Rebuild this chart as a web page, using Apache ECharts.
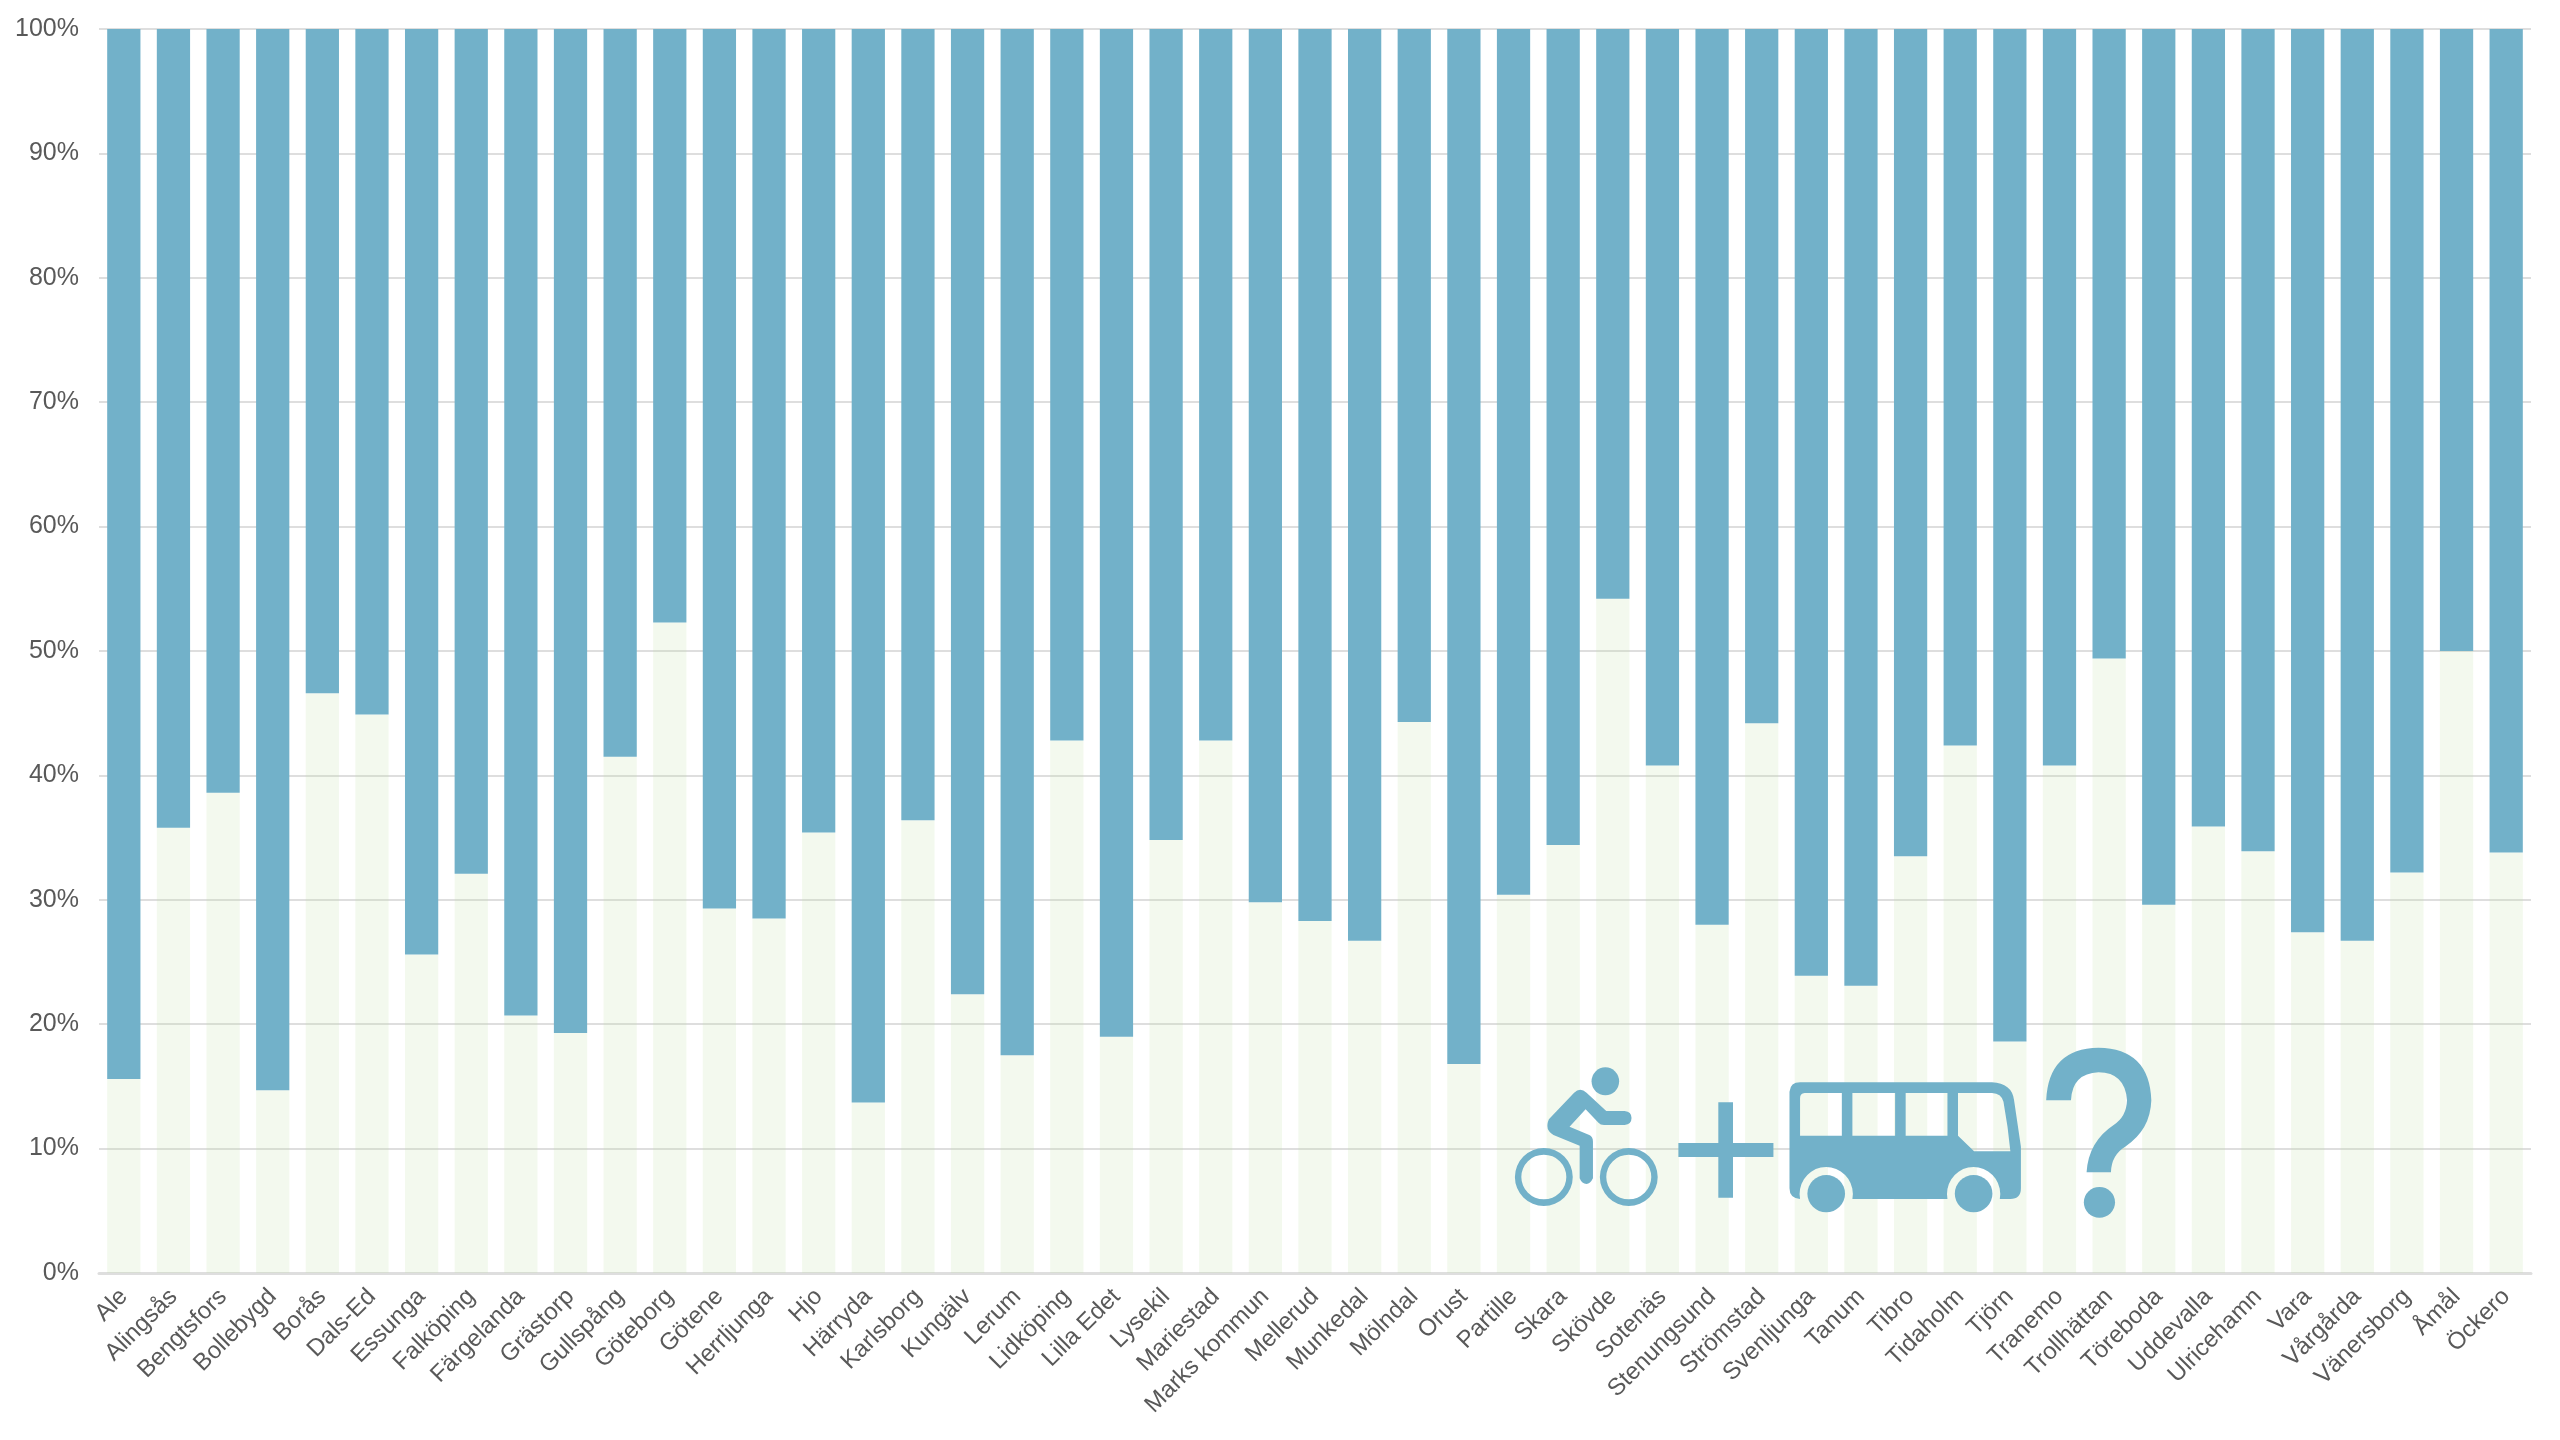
<!DOCTYPE html>
<html><head><meta charset="utf-8">
<style>html,body{margin:0;padding:0;background:#fff}#c{width:2560px;height:1440px}</style>
<script src="https://cdn.jsdelivr.net/npm/echarts@6/dist/echarts.min.js"></script>
</head><body><div id="c"></div>
<script>
const categories = ["Ale","Alingsås","Bengtsfors","Bollebygd","Borås","Dals-Ed","Essunga","Falköping","Färgelanda","Grästorp","Gullspång","Göteborg","Götene","Herrljunga","Hjo","Härryda","Karlsborg","Kungälv","Lerum","Lidköping","Lilla Edet","Lysekil","Mariestad","Marks kommun","Mellerud","Munkedal","Mölndal","Orust","Partille","Skara","Skövde","Sotenäs","Stenungsund","Strömstad","Svenljunga","Tanum","Tibro","Tidaholm","Tjörn","Tranemo","Trollhättan","Töreboda","Uddevalla","Ulricehamn","Vara","Vårgårda","Vänersborg","Åmål","Öckero"];
const lowerShare = [15.6,35.8,38.6,14.7,46.6,44.9,25.6,32.1,20.7,19.3,41.5,52.3,29.3,28.5,35.4,13.7,36.4,22.4,17.5,42.8,19.0,34.8,42.8,29.8,28.3,26.7,44.3,16.8,30.4,34.4,54.2,40.8,28.0,44.2,23.9,23.1,33.5,42.4,18.6,40.8,49.4,29.6,35.9,33.9,27.4,26.7,32.2,50.0,33.8];
const upperShare = [84.4,64.2,61.4,85.3,53.4,55.1,74.4,67.9,79.3,80.7,58.5,47.7,70.7,71.5,64.6,86.3,63.6,77.6,82.5,57.2,81.0,65.2,57.2,70.2,71.7,73.3,55.7,83.2,69.6,65.6,45.8,59.2,72.0,55.8,76.1,76.9,66.5,57.6,81.4,59.2,50.6,70.4,64.1,66.1,72.6,73.3,67.8,50.0,66.2];

const blue = '#72b1c9';
const oval = (cx,cy,rx,ry) => `M${cx-rx} ${cy} A${rx} ${ry} 0 1 1 ${cx+rx} ${cy} A${rx} ${ry} 0 1 1 ${cx-rx} ${cy} Z`;
const ovalHole = (cx,cy,rx,ry) => `M${cx-rx} ${cy} A${rx} ${ry} 0 1 0 ${cx+rx} ${cy} A${rx} ${ry} 0 1 0 ${cx-rx} ${cy} Z`;
const iconPaths = [
  oval(273,184,30,42),
  oval(139,471,63,87)+' '+ovalHole(139,471,49,67),
  oval(324,471,63,87)+' '+ovalHole(324,471,49,67),
  'M205 218 Q218 200 232 218 L275 273 L315 273 Q330 275 330 294 Q330 313 315 315 L270 315 Q262 315 258 308 L230 268 L195 320 L238 345 Q246 350 246 365 L246 475 Q240 492 232 492 Q222 492 217 475 L217 377 L160 345 Q140 330 150 298 Z',
  'M519 247 L551 247 L551 533 L519 533 Z',
  'M432 369 L639 369 L639 411 L432 411 Z',
  'M697 537 Q674 535 674 505 L674 215 Q676 187 697 187 L1115 187 Q1158 190 1163 240 L1178 380 L1178 505 Q1178 537 1155 537 L1132 537 A58 81 0 1 0 1018 537 L811 537 A58 81 0 1 0 697 537 Z M707 219 Q697 220 697 235 L697 347 L788 347 L788 219 Z M811 219 L811 347 L904 347 L904 219 Z M927 219 L927 347 L1018 347 L1018 219 Z M1041 219 L1041 347 L1076 394 L1155 394 Q1150 320 1140 245 Q1135 220 1115 219 Z',
  oval(754,521,41,56),
  oval(1075,521,41,56),
  'M1233 241 Q1238 85 1347 83 Q1458 85 1462 241 Q1460 330 1405 380 Q1375 405 1374 457 L1321 457 Q1325 365 1380 315 Q1408 290 1409 241 Q1405 158 1347 157 Q1290 160 1287 241 Z',
  oval(1349,547,34,46)
];
const chart = echarts.init(document.getElementById('c'), null, {renderer:'canvas'});
chart.setOption({
  animation:false,
  backgroundColor:'#fff',
  grid:{left:99,right:29,top:29,bottom:167,containLabel:false},
  xAxis:{type:'category',data:categories,
    axisTick:{show:false},
    axisLine:{lineStyle:{color:'#dedede',width:3}},
    axisLabel:{interval:0,rotate:45,margin:20,color:'#595959',fontSize:24,fontFamily:'"Liberation Sans",Arial,sans-serif'}},
  yAxis:{type:'value',min:0,max:100,interval:10,
    axisLine:{show:false},axisTick:{show:false},
    axisLabel:{formatter:'{value}%',margin:20,color:'#595959',fontSize:25,padding:[6,0,0,0],fontFamily:'"Liberation Sans",Arial,sans-serif'},
    splitLine:{lineStyle:{color:'#dedede',width:2}}},
  series:[
    {type:'bar',name:'Lower',stack:'s',barWidth:'67%',data:lowerShare,itemStyle:{color:'rgba(195,226,170,0.2)'}},
    {type:'bar',name:'Upper',stack:'s',barWidth:'67%',data:upperShare,itemStyle:{color:blue}},
    {type:'custom',name:'Icons',coordinateSystem:'none',silent:true,z:100,data:[0],
      renderItem:()=>({type:'group',x:1480,y:1020,scaleX:720/1568,scaleY:1/3,
        children:iconPaths.map(d=>({type:'path',shape:{pathData:d},style:{fill:blue}}))})}
  ]
});
</script></body></html>
